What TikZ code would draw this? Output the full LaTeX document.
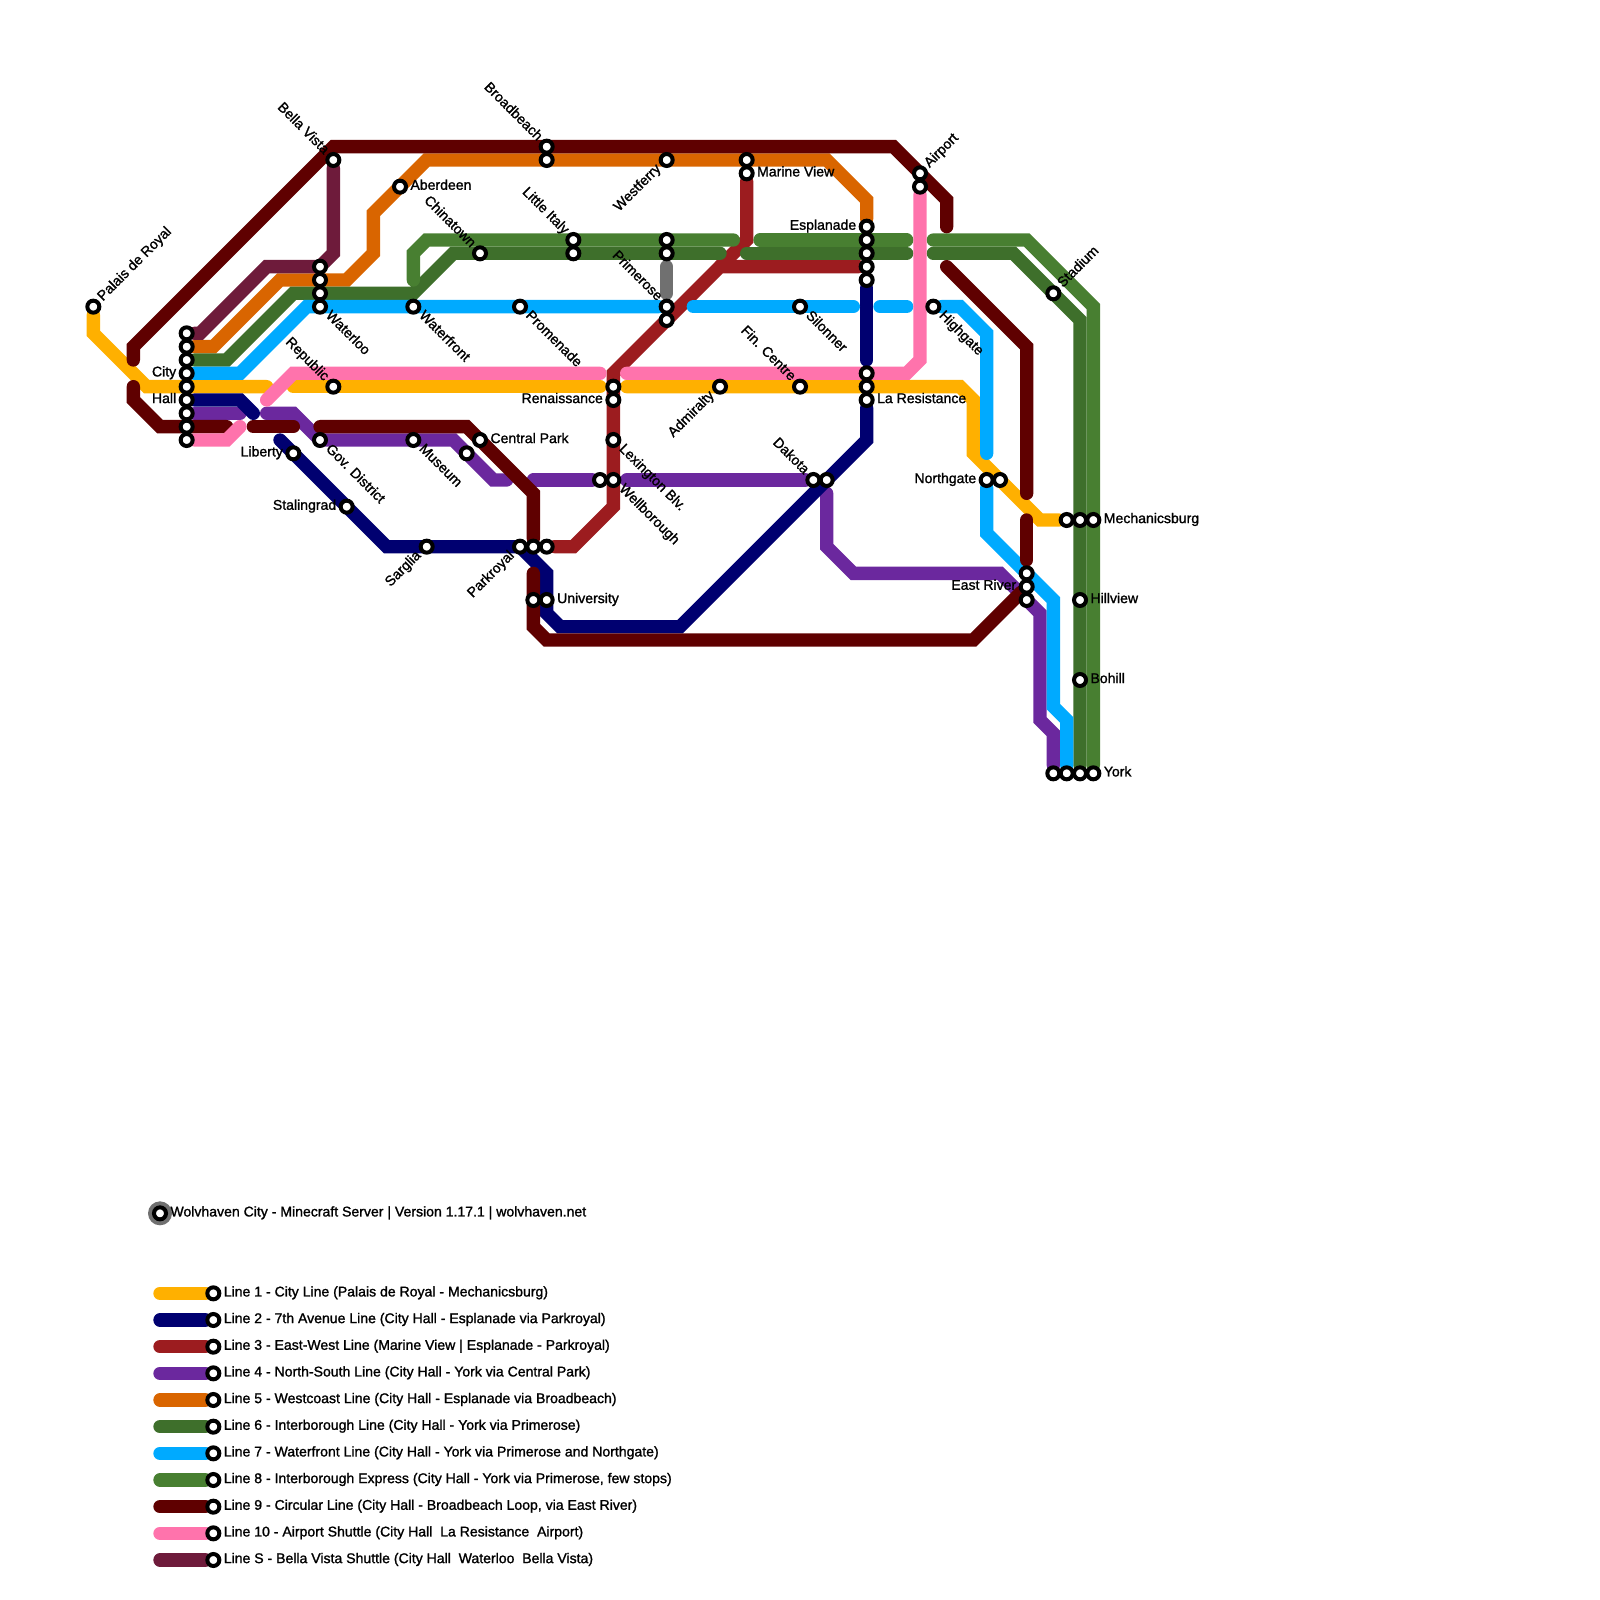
\documentclass[tikz,border=0pt]{standalone}
\usepackage{fontspec}
\setmainfont{Liberation Sans}
\newfontfamily\mapfont[FakeBold=1.3]{Liberation Sans}
\usepackage{xcolor}
\usepackage{tikz}
\usetikzlibrary{backgrounds}
\definecolor{lineone}{HTML}{FFB000}
\definecolor{linetwo}{HTML}{000070}
\definecolor{linethree}{HTML}{9C1C1F}
\definecolor{linefour}{HTML}{6B289E}
\definecolor{linefive}{HTML}{D96500}
\definecolor{linesix}{HTML}{3E6F2B}
\definecolor{lineseven}{HTML}{00AAFF}
\definecolor{lineeight}{HTML}{487F31}
\definecolor{linenine}{HTML}{5F0000}
\definecolor{lineten}{HTML}{FF73AC}
\definecolor{lineshuttle}{HTML}{6E1B3B}
\definecolor{linegrey}{HTML}{707070}
\begin{document}
\begin{tikzpicture}[
    x=0.2cm, y=-0.2cm,
    stn/.style={circle, draw=black, fill=white, line width=0.06cm, minimum size=0.18cm, inner sep=0pt},
    ring/.style={circle, fill=linegrey, minimum size=0.36cm, inner sep=0pt},
    lbl/.style={font=\mapfont\fontsize{6pt}{6.5pt}\selectfont, inner sep=0.03cm, text height=1.45ex, text depth=0.95ex},
    lblr/.style={lbl, anchor=west},
    lbll/.style={lbl, anchor=east},
    lblne/.style={lbl, anchor=west, rotate=45},
    lblse/.style={lbl, anchor=west, rotate=-45},
    lblnw/.style={lbl, anchor=east, rotate=-45},
    lblsw/.style={lbl, anchor=east, rotate=45},
    metro/.style={line width=0.2cm, line cap=round}
]
\useasboundingbox (0,0) rectangle (120,120);

\node[stn] (palais) at (7,23) {};
\node[stn] (city1) at (14,25) {};
\node[stn] (city2) at (14,26) {};
\node[stn] (city3) at (14,27) {};
\node[stn] (city4) at (14,28) {};
\node[stn] (city5) at (14,29) {};
\node[stn] (city6) at (14,30) {};
\node[stn] (city7) at (14,31) {};
\node[stn] (city8) at (14,32) {};
\node[stn] (city9) at (14,33) {};
\node[stn] (bella) at (25,12) {};
\node[stn] (aberdeen) at (30,14) {};
\node[stn] (chinatown) at (36,19) {};
\node[stn] (waterloo1) at (24,20) {};
\node[stn] (waterloo2) at (24,21) {};
\node[stn] (waterloo3) at (24,22) {};
\node[stn] (waterloo4) at (24,23) {};
\node[stn] (waterfront) at (31,23) {};
\node[stn] (promenade) at (39,23) {};
\node[stn] (republic) at (25,29) {};
\node[stn] (govdistrict) at (24,33) {};
\node[stn] (museum) at (31,33) {};
\node[stn] (museumb) at (35,34) {};
\node[stn] (centralpark) at (36,33) {};
\node[stn] (liberty) at (22,34) {};
\node[stn] (stalingrad) at (26,38) {};
\node[stn] (sarglia) at (32,41) {};
\node[stn] (parkroyal1) at (39,41) {};
\node[stn] (parkroyal2) at (40,41) {};
\node[stn] (parkroyal3) at (41,41) {};
\node[stn] (broadbeach1) at (41,11) {};
\node[stn] (broadbeach2) at (41,12) {};
\node[stn] (westferry) at (50,12) {};
\node[stn] (marine1) at (56,12) {};
\node[stn] (marine2) at (56,13) {};
\node[stn] (italy1) at (43,18) {};
\node[stn] (italy2) at (43,19) {};
\node[stn] (primerose1) at (50,18) {};
\node[stn] (primerose2) at (50,19) {};
\node[stn] (primerose3) at (50,23) {};
\node[stn] (primerose4) at (50,24) {};
\node[stn] (silonner) at (60,23) {};
\node[stn] (esplanade1) at (65,17) {};
\node[stn] (esplanade2) at (65,18) {};
\node[stn] (esplanade3) at (65,19) {};
\node[stn] (esplanade4) at (65,20) {};
\node[stn] (esplanade5) at (65,21) {};
\node[stn] (resistance1) at (65,28) {};
\node[stn] (resistance2) at (65,29) {};
\node[stn] (resistance3) at (65,30) {};
\node[stn] (renaissance1) at (46,29) {};
\node[stn] (renaissance2) at (46,30) {};
\node[stn] (lexington) at (46,33) {};
\node[stn] (wellborough1) at (45,36) {};
\node[stn] (wellborough2) at (46,36) {};
\node[stn] (admiralty) at (54,29) {};
\node[stn] (fincentre) at (60,29) {};
\node[stn] (dakota1) at (61,36) {};
\node[stn] (dakota2) at (62,36) {};
\node[stn] (airport1) at (69,13) {};
\node[stn] (airport2) at (69,14) {};
\node[stn] (university1) at (40,45) {};
\node[stn] (university2) at (41,45) {};
\node[stn] (highgate) at (70,23) {};
\node[stn] (northgate1) at (74,36) {};
\node[stn] (northgate2) at (75,36) {};
\node[stn] (stadium) at (79,22) {};
\node[stn] (mechanics1) at (80,39) {};
\node[stn] (mechanics2) at (81,39) {};
\node[stn] (mechanics3) at (82,39) {};
\node[stn] (eastriver1) at (77,43) {};
\node[stn] (eastriver2) at (77,44) {};
\node[stn] (eastriver3) at (77,45) {};
\node[stn] (hillview) at (81,45) {};
\node[stn] (bohill) at (81,51) {};
\node[stn] (york1) at (79,58) {};
\node[stn] (york2) at (80,58) {};
\node[stn] (york3) at (81,58) {};
\node[stn] (york4) at (82,58) {};

\node[lblne] (lpalais) at (palais.45) {Palais de Royal};
\node[lbll] (lcity) at (city4.west) {City};
\node[lbll] (lhall) at (city6.west) {Hall};
\node[lblnw] (lbella) at (bella.135) {Bella Vista};
\node[lblr] (laberdeen) at (aberdeen.east) {Aberdeen};
\node[lblnw] (lchinatown) at (chinatown.135) {Chinatown};
\node[lblse] (lwaterloo) at (waterloo4.-45) {Waterloo};
\node[lblse] (lwaterfront) at (waterfront.-45) {Waterfront};
\node[lblse] (lpromenade) at (promenade.-45) {Promenade};
\node[lblnw] (lrepublic) at (republic.135) {Republic};
\node[lblse] (lgovdistrict) at (govdistrict.-45) {Gov. District};
\node[lblse] (lmuseum) at (museum.-45) {Museum};
\node[lblr] (lcentralpark) at (centralpark.east) {Central Park};
\node[lbll] (lliberty) at (liberty.west) {Liberty};
\node[lbll] (lstalingrad) at (stalingrad.west) {Stalingrad};
\node[lblsw] (lsarglia) at (sarglia.225) {Sarglia};
\node[lblsw] (lparkroyal) at (parkroyal1.225) {Parkroyal};
\node[lblnw] (lbroadbeach) at (broadbeach1.135) {Broadbeach};
\node[lblsw] (lwestferry) at (westferry.225) {Westferry};
\node[lblr] (lmarine) at (marine2.east) {Marine View};
\node[lblnw] (litaly) at (italy1.135) {Little Italy};
\node[lblnw] (lprimerose) at (primerose3.135) {Primerose};
\node[lblse] (lsilonner) at (silonner.-45) {Silonner};
\node[lbll] (lesplanade) at (esplanade1.west) {Esplanade};
\node[lblr] (lresistance) at (resistance3.east) {La Resistance};
\node[lbll] (lrenaissance) at (renaissance2.west) {Renaissance};
\node[lblse] (llexington) at (lexington.-45) {Lexington Blv.};
\node[lblse] (lwellborough) at (wellborough2.-45) {Wellborough};
\node[lblsw] (ladmiralty) at (admiralty.225) {Admiralty};
\node[lblnw] (lfincentre) at (fincentre.135) {Fin. Centre};
\node[lblnw] (ldakota) at (dakota1.135) {Dakota};
\node[lblne] (lairport) at (airport1.45) {Airport};
\node[lblr] (luniversity) at (university2.east) {University};
\node[lblse] (lhighgate) at (highgate.-45) {Highgate};
\node[lbll] (lnorthgate) at (northgate1.west) {Northgate};
\node[lblne] (lstadium) at (stadium.45) {Stadium};
\node[lblr] (lmechanics) at (mechanics3.east) {Mechanicsburg};
\node[lbll] (leastriver) at (eastriver2.west) {East River};
\node[lblr] (lhillview) at (hillview.east) {Hillview};
\node[lblr] (lbohill) at (bohill.east) {Bohill};
\node[lblr] (lyork) at (york4.east) {York};

\node[ring] (titlering) at (12,91) {};
\node[stn] (titlestn) at (12,91) {};
\node[lblr] (titletext) at (titlestn.east) {Wolvhaven City - Minecraft Server | Version 1.17.1 | wolvhaven.net};

\node[stn] (key1) at (16,97) {};
\node[stn] (key2) at (16,99) {};
\node[stn] (key3) at (16,101) {};
\node[stn] (key4) at (16,103) {};
\node[stn] (key5) at (16,105) {};
\node[stn] (key6) at (16,107) {};
\node[stn] (key7) at (16,109) {};
\node[stn] (key8) at (16,111) {};
\node[stn] (key9) at (16,113) {};
\node[stn] (key10) at (16,115) {};
\node[stn] (key11) at (16,117) {};
\node[lblr] (keytext1) at (key1.east) {Line 1 - City Line (Palais de Royal - Mechanicsburg)};
\node[lblr] (keytext2) at (key2.east) {Line 2 - 7th Avenue Line (City Hall - Esplanade via Parkroyal)};
\node[lblr] (keytext3) at (key3.east) {Line 3 - East-West Line (Marine View | Esplanade - Parkroyal)};
\node[lblr] (keytext4) at (key4.east) {Line 4 - North-South Line (City Hall - York via Central Park)};
\node[lblr] (keytext5) at (key5.east) {Line 5 - Westcoast Line (City Hall - Esplanade via Broadbeach)};
\node[lblr] (keytext6) at (key6.east) {Line 6 - Interborough Line (City Hall - York via Primerose)};
\node[lblr] (keytext7) at (key7.east) {Line 7 - Waterfront Line (City Hall - York via Primerose and Northgate)};
\node[lblr] (keytext8) at (key8.east) {Line 8 - Interborough Express (City Hall - York via Primerose, few stops)};
\node[lblr] (keytext9) at (key9.east) {Line 9 - Circular Line (City Hall - Broadbeach Loop, via East River)};
\node[lblr] (keytext10) at (key10.east) {Line 10 - Airport Shuttle (City Hall\ \ La Resistance\ \ Airport)};
\node[lblr] (keytext11) at (key11.east) {Line S - Bella Vista Shuttle (City Hall\ \ Waterloo\ \ Bella Vista)};

\coordinate (keystart1) at (12,97);
\coordinate (keystart2) at (12,99);
\coordinate (keystart3) at (12,101);
\coordinate (keystart4) at (12,103);
\coordinate (keystart5) at (12,105);
\coordinate (keystart6) at (12,107);
\coordinate (keystart7) at (12,109);
\coordinate (keystart8) at (12,111);
\coordinate (keystart9) at (12,113);
\coordinate (keystart10) at (12,115);
\coordinate (keystart11) at (12,117);

\coordinate (onecutA) at (20,29);
\coordinate (onecutB) at (22,29);
\coordinate (onecutC) at (45,29);
\coordinate (onecutD) at (47,29);
\coordinate (fourcutA) at (18,31);
\coordinate (fourcutB) at (20,31);
\coordinate (fourcutC) at (38,36);
\coordinate (fourcutD) at (40,36);
\coordinate (fourcutE) at (47,36);
\coordinate (fourtop) at (62,37);
\coordinate (twocutA) at (19,31);
\coordinate (twocutB) at (21,33);
\coordinate (twocutC) at (65,27);
\coordinate (sixcutA) at (54,19);
\coordinate (sixcutB) at (56,19);
\coordinate (sixcutC) at (68,19);
\coordinate (sixcutD) at (70,19);
\coordinate (sevencutA) at (52,23);
\coordinate (sevencutB) at (64,23);
\coordinate (sevencutC) at (66,23);
\coordinate (sevencutD) at (68,23);
\coordinate (sevencutE) at (74,34);
\coordinate (eightcutA) at (31,21);
\coordinate (eightcutB) at (55,18);
\coordinate (eightcutC) at (57,18);
\coordinate (eightcutD) at (68,18);
\coordinate (eightcutE) at (70,18);
\coordinate (ninecutA) at (10,27);
\coordinate (ninecutB) at (71,17);
\coordinate (ninecutC) at (71,20);
\coordinate (ninecutD) at (77,37);
\coordinate (ninecutE) at (77,39);
\coordinate (ninecutF) at (77,42);
\coordinate (ninecutG) at (40,43);
\coordinate (ninecutH) at (10,29);
\coordinate (ninecutI) at (17,32);
\coordinate (ninecutJ) at (19,32);
\coordinate (ninecutK) at (22,32);
\coordinate (ninecutL) at (24,32);
\coordinate (tencutA) at (18,32);
\coordinate (tencutB) at (20,30);
\coordinate (tencutC) at (45,28);
\coordinate (tencutD) at (47,28);
\coordinate (greytop) at (50,20);
\coordinate (greyend) at (50,22);

\begin{pgfonlayer}{background}
\draw[metro, lineone] (palais) -- (7,25) -- (11,29) -- (onecutA);
\draw[metro, lineone] (onecutB) -- (onecutC);
\draw[metro, lineone] (onecutD) -- (72,29) -- (73,30) -- (73,34) -- (78,39) -- (mechanics1);
\draw[metro, linefour] (city7) -- (fourcutA);
\draw[metro, linefour] (fourcutB) -- (22,31) -- (24,33) -- (34,33) -- (37,36) -- (fourcutC);
\draw[metro, linefour] (fourcutD) -- (wellborough1);
\draw[metro, linefour] (fourcutE) -- (dakota1);
\draw[metro, linefour] (fourtop) -- (62,41) -- (64,43) -- (75,43) -- (78,46) -- (78,54) -- (79,55) -- (york1);
\draw[metro, linetwo] (city6) -- (18,30) -- (twocutA);
\draw[metro, linetwo] (twocutB) -- (29,41) -- (39,41) -- (41,43) -- (41,46) -- (42,47) -- (51,47) -- (65,33) -- (resistance3);
\draw[metro, linetwo] (twocutC) -- (esplanade5);
\draw[metro, linethree] (parkroyal3) -- (43,41) -- (46,38) -- (46,28) -- (54,20) -- (esplanade4);
\draw[metro, linethree] (marine2) -- (56,18) -- (54,20);
\draw[metro, linefive] (city2) -- (16,26) -- (21,21) -- (26,21) -- (28,19) -- (28,16) -- (32,12) -- (62,12) -- (65,15) -- (esplanade1);
\draw[metro, linesix] (city3) -- (17,27) -- (22,22) -- (31,22) -- (34,19) -- (sixcutA);
\draw[metro, linesix] (sixcutB) -- (sixcutC);
\draw[metro, linesix] (sixcutD) -- (76,19) -- (81,24) -- (york3);
\draw[metro, lineseven] (city4) -- (18,28) -- (23,23) -- (primerose3);
\draw[metro, lineseven] (sevencutA) -- (sevencutB);
\draw[metro, lineseven] (sevencutC) -- (sevencutD);
\draw[metro, lineseven] (highgate) -- (72,23) -- (74,25) -- (sevencutE);
\draw[metro, lineseven] (northgate1) -- (74,40) -- (79,45) -- (79,53) -- (80,54) -- (york2);
\draw[metro, lineeight] (eightcutA) -- (31,19) -- (32,18) -- (eightcutB);
\draw[metro, lineeight] (eightcutC) -- (eightcutD);
\draw[metro, lineeight] (eightcutE) -- (77,18) -- (82,23) -- (york4);
\draw[metro, linenine] (ninecutA) -- (10,26) -- (25,11) -- (67,11) -- (71,15) -- (ninecutB);
\draw[metro, linenine] (ninecutC) -- (77,26) -- (ninecutD);
\draw[metro, linenine] (ninecutE) -- (ninecutF);
\draw[metro, linenine] (ninecutG) -- (40,47) -- (41,48) -- (73,48) -- (eastriver2);
\draw[metro, linenine] (ninecutH) -- (10,30) -- (12,32) -- (ninecutI);
\draw[metro, linenine] (ninecutJ) -- (ninecutK);
\draw[metro, linenine] (ninecutL) -- (35,32) -- (40,37) -- (parkroyal2);
\draw[metro, lineten] (city9) -- (17,33) -- (tencutA);
\draw[metro, lineten] (tencutB) -- (22,28) -- (tencutC);
\draw[metro, lineten] (tencutD) -- (68,28) -- (69,27) -- (airport2);
\draw[metro, lineshuttle] (city1) -- (15,25) -- (20,20) -- (24,20) -- (25,19) -- (bella);
\draw[metro, linegrey] (greytop) -- (greyend);
\draw[metro, lineone] (keystart1) -- (key1);
\draw[metro, linetwo] (keystart2) -- (key2);
\draw[metro, linethree] (keystart3) -- (key3);
\draw[metro, linefour] (keystart4) -- (key4);
\draw[metro, linefive] (keystart5) -- (key5);
\draw[metro, linesix] (keystart6) -- (key6);
\draw[metro, lineseven] (keystart7) -- (key7);
\draw[metro, lineeight] (keystart8) -- (key8);
\draw[metro, linenine] (keystart9) -- (key9);
\draw[metro, lineten] (keystart10) -- (key10);
\draw[metro, lineshuttle] (keystart11) -- (key11);
\end{pgfonlayer}
\end{tikzpicture}
\end{document}
